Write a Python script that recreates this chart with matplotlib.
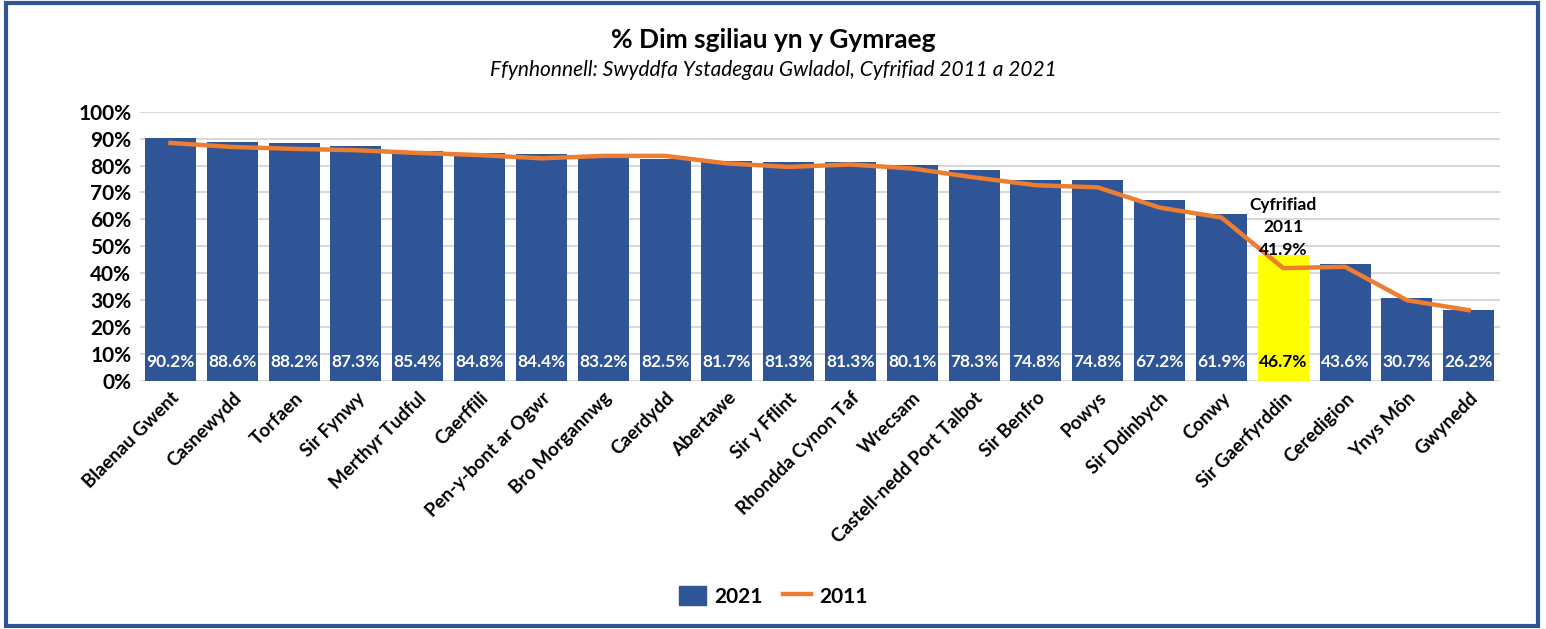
import matplotlib.pyplot as plt
from matplotlib.patches import Rectangle
from matplotlib.ticker import PercentFormatter

plt.rcParams['font.family'] = ['Lato', 'DejaVu Sans']

areas = ['Blaenau Gwent', 'Casnewydd', 'Torfaen', 'Sir Fynwy', 'Merthyr Tudful',
         'Caerffili', 'Pen-y-bont ar Ogwr', 'Bro Morgannwg', 'Caerdydd', 'Abertawe',
         'Sir y Fflint', 'Rhondda Cynon Taf', 'Wrecsam', 'Castell-nedd Port Talbot',
         'Sir Benfro', 'Powys', 'Sir Ddinbych', 'Conwy', 'Sir Gaerfyrddin',
         'Ceredigion', 'Ynys Môn', 'Gwynedd']
pct_2021 = [90.2, 88.6, 88.2, 87.3, 85.4, 84.8, 84.4, 83.2, 82.5, 81.7, 81.3,
            81.3, 80.1, 78.3, 74.8, 74.8, 67.2, 61.9, 46.7, 43.6, 30.7, 26.2]
pct_2011 = [88.4, 86.9, 86.2, 85.7, 84.7, 83.9, 82.7, 83.6, 83.6, 80.8, 79.5,
            80.4, 78.9, 75.6, 72.7, 71.9, 64.4, 60.7, 41.9, 42.4, 30.0, 26.3]
highlight = 'Sir Gaerfyrddin'

blue = '#2F5597'
orange = '#ED7D31'

fig = plt.figure(figsize=(15.46, 6.29), dpi=100)
ax = fig.add_axes([0.0903, 0.3943, 0.8797, 0.4281])

x = list(range(len(areas)))
colors = ['#FFFF00' if a == highlight else blue for a in areas]
bars = ax.bar(x, pct_2021, width=0.825, color=colors, zorder=2, label='2021')
line, = ax.plot(x, pct_2011, color=orange, lw=3.2, zorder=3, label='2011')

for i, v in enumerate(pct_2021):
    c = 'black' if areas[i] == highlight else 'white'
    ax.text(i, 7, f'{v:.1f}%', ha='center', va='center', color=c,
            fontsize=12.5, fontweight='bold', zorder=4)

# label for the 2011 point of the highlighted area
hi = areas.index(highlight)
ax.text(hi, pct_2011[hi] + 3.8, f'Cyfrifiad\n2011\n{pct_2011[hi]:.1f}%',
        ha='center', va='bottom', fontsize=12.5, fontweight='bold',
        linespacing=1.5, zorder=4)

ax.set_xlim(-0.5, len(areas) - 0.5)
ax.set_ylim(0, 100)
ax.set_yticks(range(0, 101, 10))
ax.yaxis.set_major_formatter(PercentFormatter(decimals=0))
ax.set_xticks(x)
ax.set_xticklabels(areas, rotation=45, ha='right', rotation_mode='anchor',
                   fontsize=13.5, fontweight='bold')
for lab in ax.get_yticklabels():
    lab.set_fontsize(15)
    lab.set_fontweight('bold')
ax.tick_params(length=0, pad=6)
ax.grid(axis='y', color='#D9D9D9', lw=1.5, zorder=0)
for s in ax.spines.values():
    s.set_visible(False)

fig.text(0.5, 0.937, '% Dim sgiliau yn y Gymraeg', ha='center', va='center',
         fontsize=19, fontweight='bold')
fig.text(0.5, 0.888, 'Ffynhonnell: Swyddfa Ystadegau Gwladol, Cyfrifiad 2011 a 2021',
         ha='center', va='center', fontsize=15, style='italic')

leg = fig.legend([bars, line], ['2021', '2011'], loc='center',
                 bbox_to_anchor=(0.5, 0.052), ncol=2, frameon=False,
                 prop={'size': 15, 'weight': 'bold'}, handlelength=1.3,
                 handleheight=1.0, columnspacing=1.0, handletextpad=0.4)
leg.legend_handles[0].set_color(blue)

fig.patches.append(Rectangle((0.004, 0.005), 0.991, 0.99, transform=fig.transFigure,
                             fill=False, edgecolor=blue, lw=3))

fig.savefig('out.png', dpi=100)
